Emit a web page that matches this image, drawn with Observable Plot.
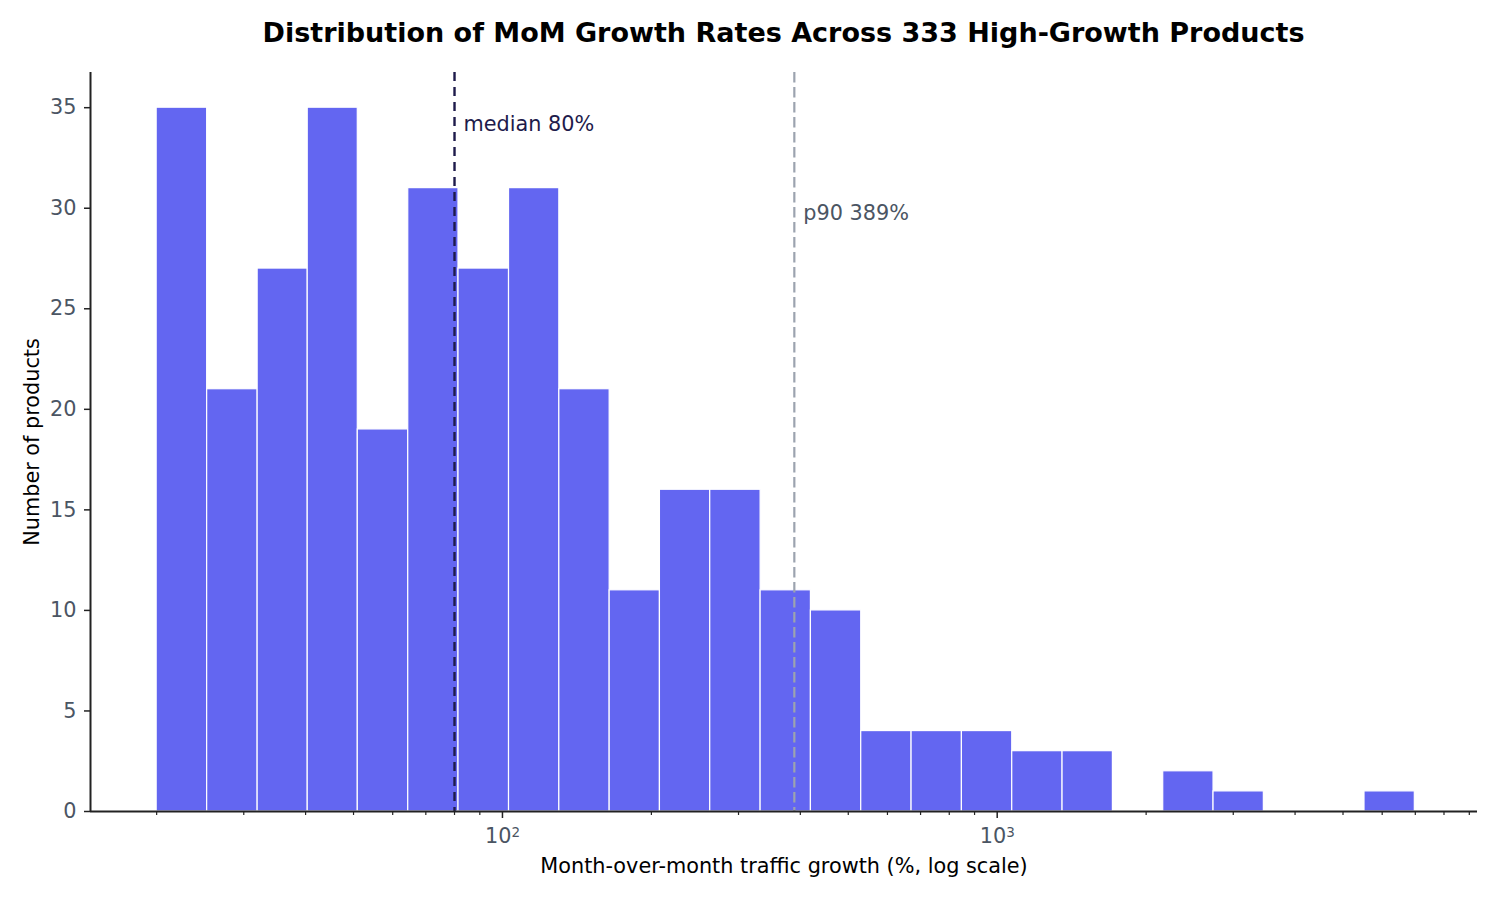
<!DOCTYPE html>
<html>
<head>
<meta charset="utf-8">
<script src="https://cdn.jsdelivr.net/npm/d3@7"></script>
<script src="https://cdn.jsdelivr.net/npm/@observablehq/plot@0.6"></script>
<style>
  html, body { margin: 0; padding: 0; background: #ffffff; }
  #wrap { width: 1500px; height: 900px; position: relative; }
  #title {
    height: 66px; line-height: 66px;
    font-family: "DejaVu Sans", sans-serif; font-weight: bold; font-size: 27px;
    color: #000; text-align: center;
    padding-left: 90px; padding-right: 23px; box-sizing: border-box; width: 1500px;
    white-space: nowrap;
  }
</style>
</head>
<body>
<div id="wrap">
  <div id="title">Distribution of MoM Growth Rates Across 333 High-Growth Products</div>
  <div id="chart"></div>
</div>
<script>
// Bin edges (MoM growth %, log-spaced)
const binEdges = [20, 25.3, 32.0, 40.4, 51.0, 64.5, 81.5, 103.1, 130.3, 164.7, 208.1, 263.0, 332.5, 420.2, 531.1, 671.3, 848.5, 1072.5, 1355.5, 1713.3, 2165.5, 2737, 3459, 4372, 5526, 6984];
// Counts per bin
const counts = [35, 21, 27, 35, 19, 31, 27, 31, 21, 11, 16, 16, 11, 10, 4, 4, 4, 3, 3, 0, 2, 1, 0, 0, 1];
const medianValue = 80;
const p90Value = 389;
const xDomain = [14.7, 9350];
const yDomain = [0, 36.75];
const yTicks = [0, 5, 10, 15, 20, 25, 30, 35];
const majorXTicks = [100, 1000];
const majorXBase = ["10", "10"];
const majorXExp = ["2", "3"];
const minorXTicks = [20, 30, 40, 50, 60, 70, 80, 90, 200, 300, 400, 500, 600, 700, 800, 900, 2000, 3000, 4000, 5000, 6000, 7000, 8000, 9000];

const bins = counts.map((c, i) => ({x1: binEdges[i], x2: binEdges[i + 1], count: c}));
const majorLabels = majorXTicks.map((t, i) => ({x: t, base: majorXBase[i], exp: majorXExp[i]}));

const FONT = "DejaVu Sans, sans-serif";
const FS = 20.8;
const FSE = 13.5;

const chart = Plot.plot({
  width: 1500,
  height: 834,
  marginTop: 6,
  marginBottom: 89,
  marginLeft: 90,
  marginRight: 23,
  style: {fontFamily: FONT, fontSize: FS + "px", background: "#ffffff", color: "#222"},
  x: {type: "log", domain: xDomain},
  y: {domain: yDomain},
  marks: [
    Plot.rectY(bins, {x1: "x1", x2: "x2", y1: 0, y2: "count", fill: "#6366f1", stroke: "#ffffff", strokeWidth: 1.2}),
    Plot.ruleX([medianValue], {stroke: "#1e1b4b", strokeWidth: 2.4, strokeDasharray: "9,6"}),
    Plot.ruleX([p90Value], {stroke: "#9ca3af", strokeWidth: 2.2, strokeDasharray: "10.5,4.5"}),
    Plot.text([medianValue], {x: d => d, y: 34.15, text: d => `median ${d}%`, textAnchor: "start", dx: 9, fill: "#1e1b4b", fontSize: FS, lineAnchor: "middle"}),
    Plot.text([p90Value], {x: d => d, y: 29.75, text: d => `p90 ${d}%`, textAnchor: "start", dx: 9, fill: "#4b5563", fontSize: FS, lineAnchor: "middle"}),
    // spines
    Plot.ruleX([xDomain[0]], {stroke: "#222", strokeWidth: 2}),
    Plot.ruleY([0], {stroke: "#222", strokeWidth: 2}),
    // axes
    Plot.axisY(yTicks, {tickSize: 6, tickPadding: 8, stroke: "#222", strokeWidth: 1.5, fill: "#4b5563", fontSize: FS, label: null}),
    Plot.axisX(majorXTicks, {tickSize: 7, stroke: "#222", strokeWidth: 1.5, tickFormat: () => "", label: null}),
    Plot.axisX(minorXTicks, {tickSize: 4, stroke: "#222", strokeWidth: 1.2, tickFormat: () => "", label: null}),
    // major tick labels as base + superscript exponent
    Plot.text(majorLabels, {x: "x", text: "base", frameAnchor: "bottom", dy: 24.8, dx: 9, textAnchor: "end", lineAnchor: "middle", fill: "#4b5563", fontSize: FS}),
    Plot.text(majorLabels, {x: "x", text: "exp", frameAnchor: "bottom", dy: 20.7, dx: 9, textAnchor: "start", lineAnchor: "middle", fill: "#4b5563", fontSize: FSE}),
    // axis labels
    Plot.text(["Month-over-month traffic growth (%, log scale)"], {frameAnchor: "bottom", dy: 55, text: d => d, fill: "#000", fontSize: FS, textAnchor: "middle", lineAnchor: "middle"}),
    Plot.text(["Number of products"], {frameAnchor: "left", dx: -58, rotate: -90, text: d => d, fill: "#000", fontSize: FS, textAnchor: "middle", lineAnchor: "middle"})
  ]
});
document.getElementById("chart").appendChild(chart);
</script>
</body>
</html>
